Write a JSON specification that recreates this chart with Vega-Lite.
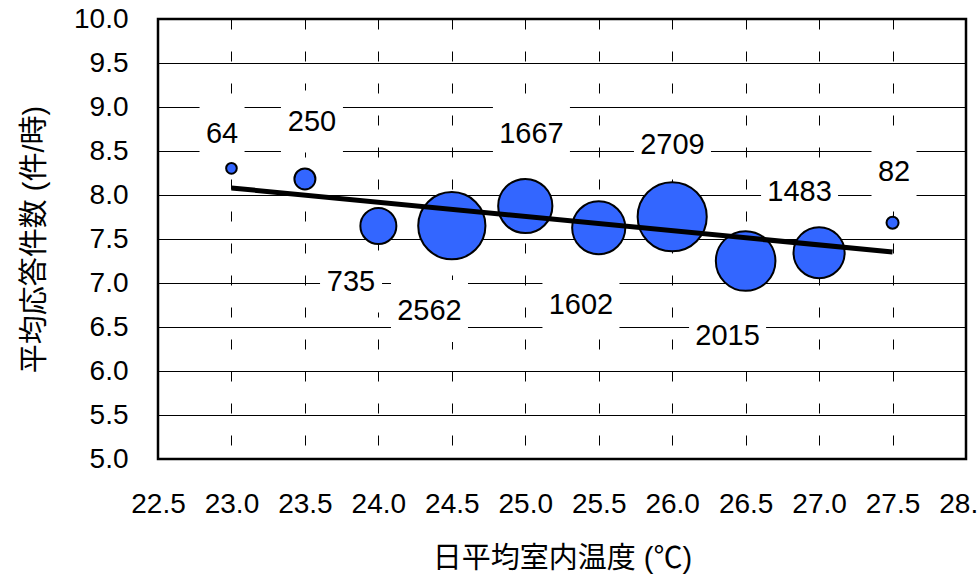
{
  "$schema": "https://vega.github.io/schema/vega-lite/v6.json",
  "width": 808,
  "height": 440,
  "autosize": {"type": "none"},
  "padding": {"left": 158, "top": 19, "right": 11, "bottom": 116},
  "background": "white",
  "config": {
    "view": {"stroke": "black", "strokeWidth": 2.5},
    "font": "Liberation Sans, Arial, Noto Sans CJK JP",
    "axis": {
      "labelFont": "Liberation Sans, Arial",
      "titleFont": "Liberation Sans, Noto Sans CJK JP",
      "labelFontSize": 28,
      "titleFontSize": 29,
      "titleFontWeight": "normal",
      "labelColor": "black",
      "titleColor": "black",
      "ticks": false,
      "domain": false,
      "grid": true,
      "gridColor": "black",
      "gridOpacity": 1,
      "gridWidth": 1,
      "labelOverlap": false,
      "labelFlush": false,
      "format": ".1f"
    }
  },
  "datasets": {
    "bubbles": [
      {"temp": 23.0, "rate": 8.303, "count": 64},
      {"temp": 23.5, "rate": 8.182, "count": 250},
      {"temp": 24.0, "rate": 7.648, "count": 735},
      {"temp": 24.5, "rate": 7.651, "count": 2562},
      {"temp": 25.0, "rate": 7.875, "count": 1667},
      {"temp": 25.5, "rate": 7.628, "count": 1602},
      {"temp": 26.0, "rate": 7.753, "count": 2709},
      {"temp": 26.5, "rate": 7.25, "count": 2015},
      {"temp": 27.0, "rate": 7.344, "count": 1483},
      {"temp": 27.5, "rate": 7.685, "count": 82}
    ],
    "labels": [
      {"temp": 22.936, "rate": 8.698, "label": "64"},
      {"temp": 23.548, "rate": 8.834, "label": "250"},
      {"temp": 23.814, "rate": 7.016, "label": "735"},
      {"temp": 24.348, "rate": 6.682, "label": "2562"},
      {"temp": 25.042, "rate": 8.698, "label": "1667"},
      {"temp": 25.379, "rate": 6.755, "label": "1602"},
      {"temp": 26.002, "rate": 8.573, "label": "2709"},
      {"temp": 26.377, "rate": 6.402, "label": "2015"},
      {"temp": 26.867, "rate": 8.039, "label": "1483"},
      {"temp": 27.51, "rate": 8.266, "label": "82"}
    ],
    "trend": [
      {"temp": 23.0, "rate": 8.08},
      {"temp": 27.5, "rate": 7.352}
    ]
  },
  "encoding": {
    "x": {
      "field": "temp",
      "type": "quantitative",
      "scale": {"domain": [22.5, 28.0], "nice": false, "zero": false},
      "axis": {
        "title": "日平均室内温度 (℃)",
        "values": [22.5, 23.0, 23.5, 24.0, 24.5, 25.0, 25.5, 26.0, 26.5, 27.0, 27.5, 28.0],
        "gridDash": [10, 22],
        "labelPadding": 31,
        "titlePadding": 26
      }
    },
    "y": {
      "field": "rate",
      "type": "quantitative",
      "scale": {"domain": [5, 10], "nice": false, "zero": false},
      "axis": {
        "title": "平均応答件数 (件/時)",
        "values": [5.0, 5.5, 6.0, 6.5, 7.0, 7.5, 8.0, 8.5, 9.0, 9.5, 10.0],
        "labelPadding": 30,
        "titlePadding": 24
      }
    }
  },
  "layer": [
    {
      "data": {"name": "labels"},
      "transform": [{"filter": "length(datum.label) == 2"}],
      "mark": {"type": "point", "shape": "M-0.726,-1H0.726V1H-0.726Z", "size": 3844, "filled": true, "fill": "white", "opacity": 1, "strokeWidth": 0}
    },
    {
      "data": {"name": "labels"},
      "transform": [{"filter": "length(datum.label) == 3"}],
      "mark": {"type": "point", "shape": "M-1,-1H1V1H-1Z", "size": 3844, "filled": true, "fill": "white", "opacity": 1, "strokeWidth": 0}
    },
    {
      "data": {"name": "labels"},
      "transform": [{"filter": "length(datum.label) == 4"}],
      "mark": {"type": "point", "shape": "M-1.242,-1H1.242V1H-1.242Z", "size": 3844, "filled": true, "fill": "white", "opacity": 1, "strokeWidth": 0}
    },
    {
      "data": {"name": "labels"},
      "mark": {"type": "text", "fontSize": 29, "font": "Liberation Sans, Arial", "color": "black", "align": "center", "baseline": "middle"},
      "encoding": {"text": {"field": "label"}}
    },
    {
      "data": {"name": "bubbles"},
      "mark": {"type": "circle", "fill": "#3366FF", "stroke": "black", "strokeWidth": 2, "opacity": 1},
      "encoding": {
        "size": {
          "field": "count",
          "type": "quantitative",
          "scale": {"domain": [0, 2709], "range": [0, 4778], "zero": true},
          "legend": null
        }
      }
    },
    {
      "data": {"name": "trend"},
      "mark": {"type": "line", "color": "black", "strokeWidth": 5, "strokeCap": "butt"},
      "encoding": {}
    }
  ]
}
